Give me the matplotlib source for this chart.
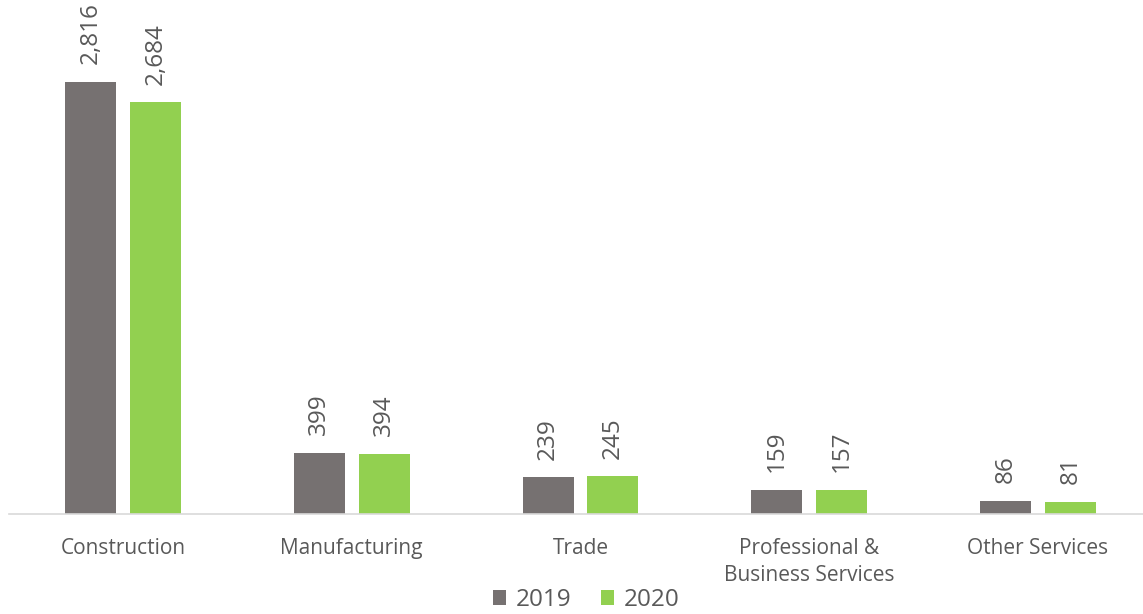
import matplotlib
matplotlib.use("Agg")
import matplotlib.pyplot as plt
import numpy as np

categories = ["Construction", "Manufacturing", "Trade", "Professional &\nBusiness Services", "Other Services"]
series_names = ["2019", "2020"]
values_2019 = [2816, 399, 239, 159, 86]
values_2020 = [2684, 394, 245, 157, 81]

colors = ["#767171", "#92D050"]
text_color = "#595959"

plt.rcParams["font.family"] = ["Open Sans", "DejaVu Sans"]

W, H = 1143, 614
fig = plt.figure(figsize=(W / 100, H / 100), dpi=100)
left_px, right_px, bottom_px, top_px = 8.6, 1152.4, 514, 0
ax = fig.add_axes([left_px / W, (H - bottom_px) / H, (right_px - left_px) / W, (bottom_px - top_px) / H])

x = np.arange(len(categories))
width = 0.223
offset = 0.142
ymax = 3350

for vals, name, col, sgn in [(values_2019, series_names[0], colors[0], -1),
                             (values_2020, series_names[1], colors[1], 1)]:
    bars = ax.bar(x + sgn * offset, vals, width, color=col, label=name, zorder=2)
    for b, v in zip(bars, vals):
        ax.text(b.get_x() + b.get_width() / 2, v + ymax * 0.034, f"{v:,}",
                rotation=90, ha="center", va="bottom", fontsize=17.5, color=text_color)

ax.set_xlim(-0.5, len(categories) - 0.5)
ax.set_ylim(0, ymax)
ax.set_yticks([])
ax.set_xticks(x)
ax.set_xticklabels(categories, fontsize=15, color=text_color, linespacing=1.4)
ax.tick_params(axis="x", length=0, pad=17)
for s in ["top", "right", "left"]:
    ax.spines[s].set_visible(False)
ax.spines["bottom"].set_color("#D9D9D9")
ax.spines["bottom"].set_linewidth(1.2)

leg = fig.legend(loc="center", bbox_to_anchor=(586 / W, (H - 600) / H), ncol=2, frameon=False,
                 fontsize=17.5, handlelength=0.55, handleheight=0.55, handletextpad=0.4,
                 columnspacing=1.2, labelcolor=text_color)

fig.savefig("out.png", dpi=100)
